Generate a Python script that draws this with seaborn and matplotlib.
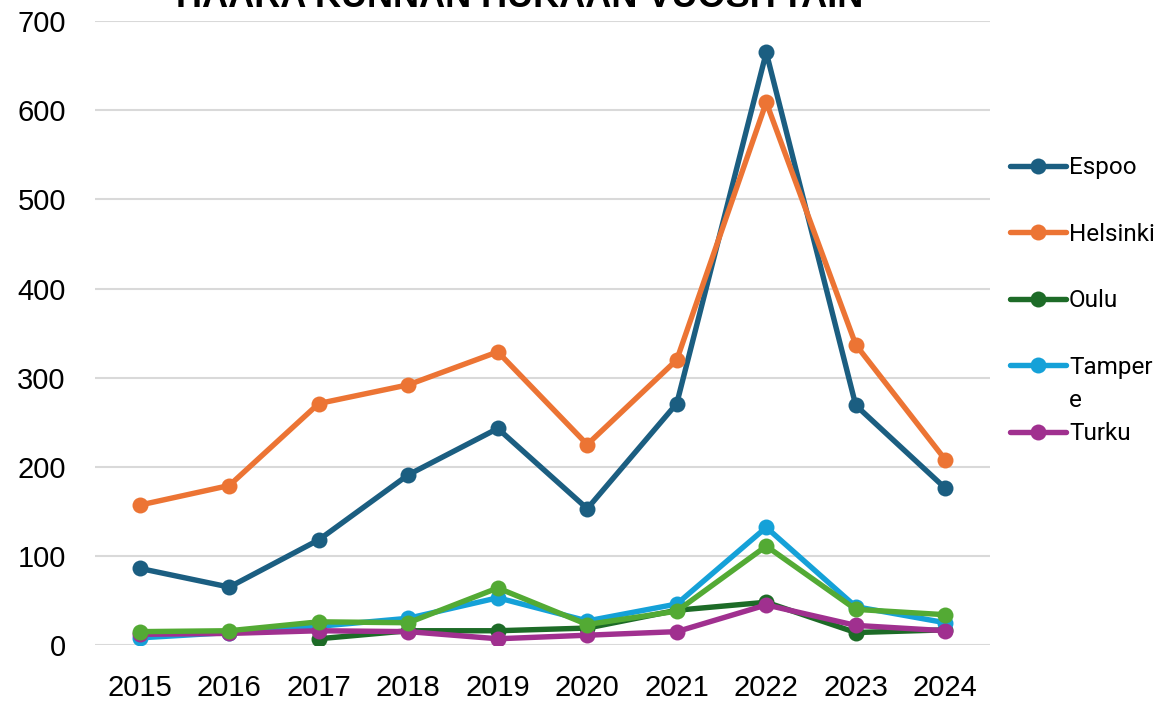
import pandas as pd
import matplotlib.pyplot as plt
import seaborn as sns

# data
years = [2015, 2016, 2017, 2018, 2019, 2020, 2021, 2022, 2023, 2024]
espoo = [86, 65, 118, 191, 243, 153, 271, 665, 269, 176]
helsinki = [157, 179, 271, 292, 329, 225, 320, 609, 337, 208]
oulu = [None, None, 7, 16, 16, 19, 39, 48, 14, 17]
tampere = [8, 14, 21, 30, 53, 27, 46, 132, 43, 25]
turku = [12, 13, 16, 15, 7, 11, 15, 45, 22, 16]
vantaa = [15, 16, 26, 25, 64, 23, 38, 111, 40, 34]

cities = ['Espoo', 'Helsinki', 'Oulu', 'Tampere', 'Turku', 'Vantaa']
# legend wraps "Tampere" as "Tamper" / "e" in the reference
legend_labels = ['Espoo', 'Helsinki', 'Oulu', 'Tamper', 'Turku']
colors = ['#1B5E81', '#EC7434', '#1D6B27', '#15A1D8', '#A0308F', '#53AA34']
title = 'HAARA KUNNAN HUKAAN VUOSITTAIN'

# long form table
rows = []
for name, vals in zip(cities, [espoo, helsinki, oulu, tampere, turku, vantaa]):
    for y, v in zip(years, vals):
        if v is not None:
            rows.append({'year': y, 'value': v, 'city': name})
df = pd.DataFrame(rows)

sns.set_style('white')
plt.rcParams['font.family'] = ['Liberation Sans', 'DejaVu Sans']

fig = plt.figure(figsize=(11.73, 7.04), dpi=100)
ax = fig.add_axes([0.081, 0.0838, 0.763, 0.886])

sns.lineplot(data=df, x='year', y='value', hue='city', hue_order=cities,
             palette=dict(zip(cities, colors)), marker='o', markersize=11.5,
             markeredgewidth=0, linewidth=3.9, ax=ax, legend=True)

ax.set_xlim(2014.5, 2024.5)
ax.set_ylim(0, 700)
ax.set_xticks(years)
ax.set_yticks(range(0, 701, 100))
ax.tick_params(axis='both', labelsize=21, length=0, labelcolor='black')
ax.tick_params(axis='y', pad=21)
ax.tick_params(axis='x', pad=21)
ax.yaxis.grid(True, color='#D9D9D9', linewidth=1.5)
ax.set_axisbelow(True)
for s in ax.spines.values():
    s.set_visible(False)
ax.set_xlabel('')
ax.set_ylabel('')

handles, labels = ax.get_legend_handles_labels()
leg = ax.legend(handles[:5], legend_labels, loc='upper left',
                bbox_to_anchor=(0.998, 0.819), frameon=False,
                prop={'family': 'Roboto', 'size': 17.5}, handlelength=2.3,
                handletextpad=0.12, labelspacing=1.79, labelcolor='black')

# second line of the wrapped "Tampere" label (drawn after the legend)
ax.annotate('e', xy=(0, 0), xycoords=leg.get_texts()[3],
            xytext=(0, -24), textcoords='offset points', va='bottom',
            ha='left', family='Roboto', fontsize=17.5, color='black',
            annotation_clip=False, zorder=10)

fig.text(0.443, 0.990, title, ha='center', va='baseline', fontsize=26,
         fontweight='bold', color='black')

fig.savefig('out.png', dpi=100)
